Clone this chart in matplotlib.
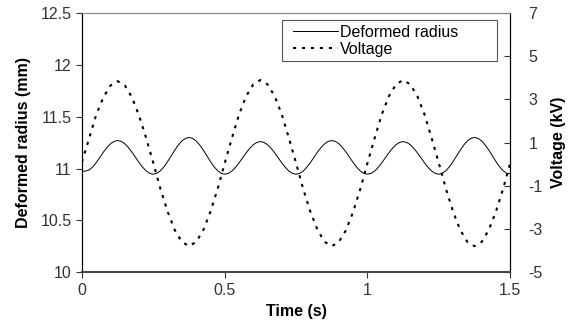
import numpy as np
from matplotlib import pyplot as plt
from matplotlib.lines import Line2D
from matplotlib.legend_handler import HandlerLine2D

# radius read every 0.0125 s, voltage every 0.025 s
time_r = np.round(np.arange(0, 121) * 0.0125, 4)
time_v = np.round(np.arange(0, 61) * 0.025, 3)

# deformed radius (mm)
radius = [10.975, 10.975, 10.985, 11.015, 11.057, 11.108, 11.158, 11.203, 11.239, 11.262,
          11.27, 11.262, 11.239, 11.203, 11.158, 11.108, 11.057, 11.012, 10.976, 10.953,
          10.945, 10.954, 10.979, 11.018, 11.067, 11.123, 11.178, 11.227, 11.266, 11.291,
          11.30, 11.291, 11.266, 11.227, 11.178, 11.123, 11.067, 11.018, 10.979, 10.954,
          10.945, 10.953, 10.975, 11.01, 11.054, 11.103, 11.151, 11.195, 11.23, 11.252,
          11.26, 11.252, 11.23, 11.195, 11.151, 11.103, 11.054, 11.01, 10.975, 10.953,
          10.945, 10.953, 10.976, 11.012, 11.057, 11.108, 11.158, 11.203, 11.239, 11.262,
          11.27, 11.262, 11.239, 11.203, 11.158, 11.108, 11.057, 11.012, 10.976, 10.953,
          10.945, 10.953, 10.975, 11.01, 11.054, 11.103, 11.151, 11.195, 11.23, 11.252,
          11.26, 11.252, 11.23, 11.195, 11.151, 11.103, 11.054, 11.01, 10.975, 10.953,
          10.945, 10.954, 10.979, 11.018, 11.067, 11.123, 11.178, 11.227, 11.266, 11.291,
          11.30, 11.291, 11.266, 11.227, 11.178, 11.123, 11.067, 11.018, 10.979, 10.954,
          10.95]

# voltage (kV)
voltage = [0.1, 1.2, 2.3, 3.1, 3.65, 3.85, 3.65, 3.1, 2.25, 1.2,
           0.05, -1.15, -2.2, -3.05, -3.6, -3.8, -3.6, -3.05, -2.2, -1.15,
           0.05, 1.2, 2.3, 3.15, 3.7, 3.9, 3.7, 3.15, 2.3, 1.2,
           0.05, -1.15, -2.2, -3.05, -3.6, -3.8, -3.6, -3.05, -2.2, -1.15,
           0.05, 1.2, 2.3, 3.15, 3.7, 3.9, 3.7, 3.15, 2.3, 1.2,
           0.05, -1.15, -2.2, -3.05, -3.6, -3.8, -3.6, -3.05, -2.2, -1.15,
           0.05]

xticks = [0, 0.5, 1, 1.5]
xtick_labels = ["0", "0.5", "1", "1.5"]
lyticks = [10, 10.5, 11, 11.5, 12, 12.5]
lytick_labels = ["10", "10.5", "11", "11.5", "12", "12.5"]
ryticks = [-5, -3, -1, 1, 3, 5, 7]

plt.rcParams['font.family'] = ['Liberation Sans', 'DejaVu Sans']
plt.rcParams['axes.unicode_minus'] = False
fig = plt.figure(figsize=(5.75, 3.29), dpi=100)
ax = fig.add_axes([0.1426, 0.173, 0.7447, 0.787])
ax2 = ax.twinx()

l1, = ax.plot(time_r, radius, color="black", lw=0.7, label="Deformed radius")
l2, = ax2.plot(time_v, voltage, color="black", lw=1.5, linestyle=(0, (1.5, 2.8)),
               label="Voltage")

ax.set_xlim(0, 1.5)
ax.set_ylim(10, 12.5)
ax.set_xticks(xticks)
ax.set_xticklabels(xtick_labels)
ax.set_yticks(lyticks)
ax.set_yticklabels(lytick_labels)
ax2.set_ylim(-5, 7)
ax2.set_yticks(ryticks)

gray = "#333333"
ax.tick_params(axis="both", direction="out", length=4, width=0.8,
               labelsize=11.5, labelcolor=gray, color=gray)
ax.tick_params(axis="x", pad=4)
ax2.tick_params(axis="y", direction="in", length=4, width=0.8,
                labelsize=11.5, labelcolor=gray, color=gray, pad=13)

for a in (ax, ax2):
    a.spines["top"].set_color("#888888")
    a.spines["left"].set_color("black")
    a.spines["right"].set_color("black")
    a.spines["bottom"].set_color("#444444")
    a.spines["bottom"].set_linewidth(1.2)

ax.set_xlabel("Time (s)", fontsize=11.5, fontweight="bold", labelpad=4)
ax.set_ylabel("Deformed radius (mm)", fontsize=11.5, fontweight="bold", labelpad=7)
ax2.set_ylabel("Voltage (kV)", fontsize=11.5, fontweight="bold", labelpad=6)

# legend box spans the upper right part of the plot, like the original
leg = ax.legend(handles=[l1, l2], loc="upper left", mode="expand",
                bbox_to_anchor=(0.467, 0.973, 0.502, 0.0),
                fontsize=11.5, frameon=True, fancybox=False, framealpha=1,
                borderpad=0.3, handlelength=3.2, handletextpad=0.15,
                labelspacing=0.1, borderaxespad=0,
                handler_map={Line2D: HandlerLine2D(xpad=0.4)})
leg.get_frame().set_edgecolor("#555555")
leg.get_frame().set_linewidth(0.8)

fig.savefig("out.png", dpi=100)
